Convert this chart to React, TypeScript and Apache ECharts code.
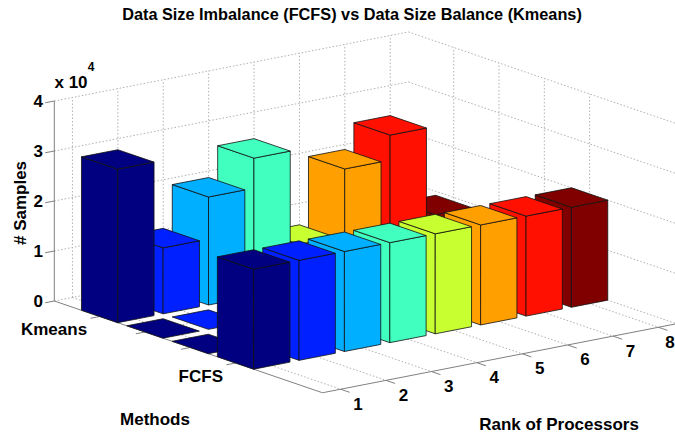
import React, { useEffect, useRef } from "react";
import * as echarts from "echarts";

const TITLE = "Data Size Imbalance (FCFS) vs Data Size Balance (Kmeans)";
const ranks = [1, 2, 3, 4, 5, 6, 7, 8];
const methodTicks = [1, 2, 3, 4];
const methodLabels = ["Kmeans", "", "", "FCFS"];
const valueTicks = [0, 1, 2, 3, 4];
// values in units of 10^4
const kmeansValues = [3.07, 1.32, 2.16, 2.76, 0.86, 2.19, 2.69, 0.92];
const emptyRowA = [0, 0, 0, 0, 0, 0, 0, 0];
const emptyRowB = [0, 0, 0, 0, 0, 0, 0, 0];
const fcfsValues = [2.0, 2.0, 2.0, 2.0, 2.0, 2.0, 2.0, 2.0];
const rows = [kmeansValues, emptyRowA, emptyRowB, fcfsValues];
const rankColors = ["#000080", "#0020ff", "#00afff", "#40ffbf", "#c8ff30", "#ff9f00", "#ff1000", "#800000"];

const xMin = 0.6, xMax = 8.4, yMin = 0, yMax = 5.92, zMax = 4;
const halfW = 0.4;

// oblique view of the 3-D box, expressed in the hidden 2-D axes' units
const origin = [54.3, 301];
const ex = [45.4, -8.85];
const ey = [45.3, 15.5];
const ez = [0, -50];
const project = (x: number, y: number, z: number) => [
  origin[0] + (x - xMin) * ex[0] + (y - yMin) * ey[0] + z * ez[0],
  origin[1] + (x - xMin) * ex[1] + (y - yMin) * ey[1] + z * ez[1],
];

// dotted grid: [x1,y1,z1,x2,y2,z2]
const gridSegments: number[][] = [];
for (const z of valueTicks) {
  if (z > 0) {
    gridSegments.push([xMin, yMin, z, xMax, yMin, z]);
    gridSegments.push([xMax, yMin, z, xMax, yMax, z]);
  }
}
gridSegments.push([xMin, yMin, 0, xMax, yMin, 0]);
gridSegments.push([xMax, yMin, 0, xMax, yMax, 0]);
for (const x of ranks) {
  gridSegments.push([x, yMin, 0, x, yMin, zMax]);
  gridSegments.push([x, yMin, 0, x, yMax, 0]);
}
for (const y of methodTicks) {
  gridSegments.push([xMax, y, 0, xMax, y, zMax]);
  gridSegments.push([xMin, y, 0, xMax, y, 0]);
}

// solid axes and ticks
const axisSegments: number[][] = [
  [xMin, yMin, 0, xMin, yMin, zMax],
  [xMin, yMin, 0, xMin, yMax, 0],
  [xMin, yMax, 0, xMax, yMax, 0],
];
for (const z of valueTicks) axisSegments.push([xMin, yMin, z, xMin - 0.2, yMin, z]);
for (const y of methodTicks) axisSegments.push([xMin, y, 0, xMin - 0.2, y, 0]);
for (const x of ranks) axisSegments.push([x, yMax, 0, x, yMax + 0.2, 0]);

// bars back to front: [rank, method row, value]
const barData: number[][] = [];
rows.forEach((row, r) => {
  for (let i = ranks.length - 1; i >= 0; i--) barData.push([ranks[i], r + 1, row[i]]);
});

const tickFont = 'bold 17px "Liberation Sans", Arial, sans-serif';
const textLabels: { text: string; at: number[]; dx: number; dy: number; align: string }[] = [
  ...valueTicks.map((z) => ({ text: String(z), at: [xMin, yMin, z], dx: -16, dy: 0, align: "center" })),
  // the last label is pulled in slightly so that it stays inside the picture
  ...ranks.map((x) => ({ text: String(x), at: [x, yMax, 0], dx: x === 8 ? 11.5 : 17.4, dy: 15, align: "center" })),
  ...methodTicks
    .map((y, i) => ({ text: methodLabels[i], at: [xMin, y, 0], dx: -12.5, dy: 13, align: "right" }))
    .filter((d) => d.text),
];

const fixedLabels = [
  { text: "# Samples", x: 20, y: 203, rotation: Math.PI / 2, size: 17 },
  { text: "Methods", x: 155, y: 419, rotation: 0, size: 17 },
  { text: "Rank of Processors", x: 559, y: 424, rotation: 0, size: 17 },
  { text: "x 10", x: 71, y: 82, rotation: 0, size: 17 },
  { text: "4", x: 91, y: 67, rotation: 0, size: 12 },
];

const segmentRenderer = (stroke: string, dash: number[] | null, width: number) => (_: any, api: any) => {
  const a = api.coord(project(api.value(0), api.value(1), api.value(2)));
  const b = api.coord(project(api.value(3), api.value(4), api.value(5)));
  return {
    type: "line",
    silent: true,
    shape: { x1: a[0], y1: a[1], x2: b[0], y2: b[1] },
    style: { stroke, lineWidth: width, lineDash: dash || undefined, fill: "none" },
  };
};

const renderBar = (_: any, api: any) => {
  const x = api.value(0), y = api.value(1), v = api.value(2);
  const fill = rankColors[x - 1];
  const p = (px: number, py: number, pz: number) => api.coord(project(px, py, pz));
  const style = { fill, stroke: "#111", lineWidth: 0.8, lineJoin: "round" };
  const x0 = x - halfW, x1 = x + halfW, y0 = y - halfW, y1 = y + halfW;
  const children: any[] = [];
  if (v > 0) {
    children.push({ type: "polygon", shape: { points: [p(x0, y0, 0), p(x0, y1, 0), p(x0, y1, v), p(x0, y0, v)] }, style });
    children.push({ type: "polygon", shape: { points: [p(x0, y1, 0), p(x1, y1, 0), p(x1, y1, v), p(x0, y1, v)] }, style });
  }
  children.push({ type: "polygon", shape: { points: [p(x0, y0, v), p(x0, y1, v), p(x1, y1, v), p(x1, y0, v)] }, style });
  return { type: "group", children };
};

export default function App() {
  const ref = useRef<HTMLDivElement>(null);
  useEffect(() => {
    const chart = echarts.init(ref.current!, null, { renderer: "svg" });
    chart.setOption({
      animation: false,
      backgroundColor: "#ffffff",
      title: {
        text: TITLE,
        left: 347,
        top: 1,
        textAlign: "center",
        textStyle: { fontFamily: '"Liberation Sans", Arial, sans-serif', fontWeight: "bold", fontSize: 16.3, color: "#000" },
      },
      grid: { left: 0, right: 0, top: 0, bottom: 0 },
      xAxis: { type: "value", min: 0, max: 675, show: false },
      yAxis: { type: "value", min: 0, max: 434, inverse: true, show: false },
      series: [
        { type: "custom", coordinateSystem: "cartesian2d", silent: true, data: gridSegments, encode: { x: 0, y: 1 }, renderItem: segmentRenderer("#b0b0b0", [1.5, 2], 1) },
        { type: "custom", coordinateSystem: "cartesian2d", silent: true, data: axisSegments, encode: { x: 0, y: 1 }, renderItem: segmentRenderer("#808080", null, 1) },
        { type: "custom", coordinateSystem: "cartesian2d", silent: true, data: barData, encode: { x: 0, y: 1 }, renderItem: renderBar },
        {
          type: "custom",
          coordinateSystem: "cartesian2d",
          silent: true,
          data: textLabels.map((d) => d.at),
          encode: { x: 0, y: 1 },
          renderItem: (params: any, api: any) => {
            const d = textLabels[params.dataIndex];
            const c = api.coord(project(api.value(0), api.value(1), api.value(2)));
            return {
              type: "text",
              x: c[0] + d.dx,
              y: c[1] + d.dy,
              style: { text: d.text, font: tickFont, fill: "#000", align: d.align, verticalAlign: "middle" },
            };
          },
        },
      ],
      graphic: fixedLabels.map((l) => ({
        type: "text",
        x: l.x,
        y: l.y,
        rotation: l.rotation,
        silent: true,
        style: {
          text: l.text,
          font: `bold ${l.size}px "Liberation Sans", Arial, sans-serif`,
          fill: "#000",
          align: "center",
          verticalAlign: "middle",
        },
      })),
    });
    return () => chart.dispose();
  }, []);
  return <div ref={ref} style={{ position: "fixed", left: 0, top: 0, width: 675, height: 434, overflow: "hidden" }} />;
}
